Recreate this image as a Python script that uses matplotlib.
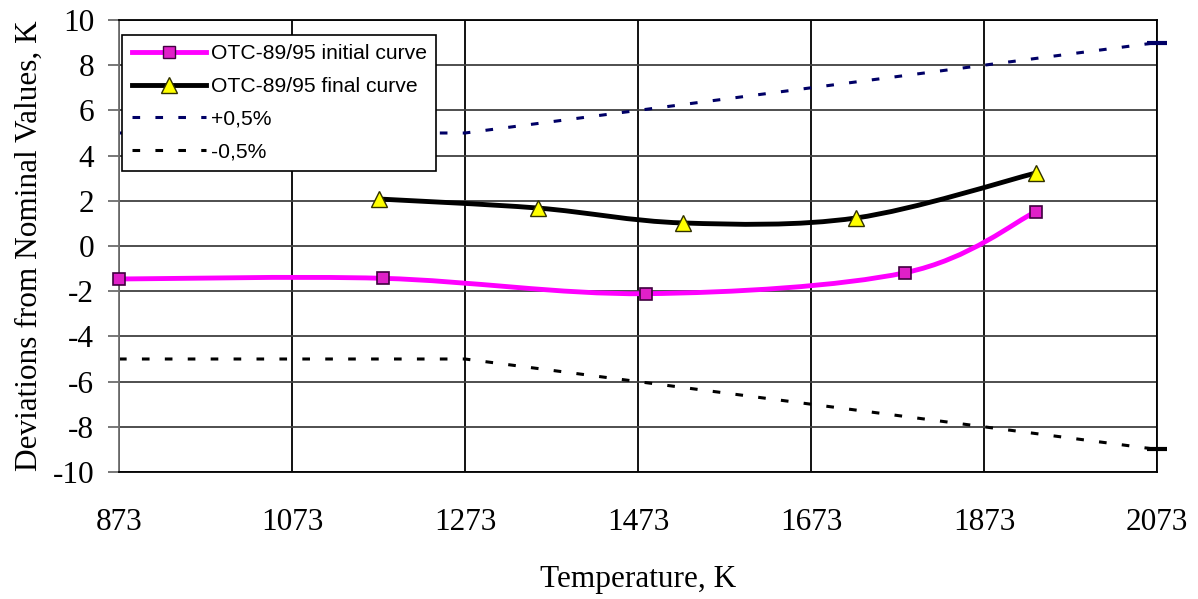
import matplotlib
matplotlib.use("Agg")
import matplotlib.pyplot as plt
from matplotlib.path import Path
from matplotlib.patches import PathPatch
from matplotlib.lines import Line2D

# ---- data ----
x_ticks = [873, 1073, 1273, 1473, 1673, 1873, 2073]
y_ticks = [-10, -8, -6, -4, -2, 0, 2, 4, 6, 8, 10]

initial_T = [873, 1178, 1482, 1782, 1933]
initial_dev = [-1.46, -1.43, -2.11, -1.18, 1.52]

final_T = [1173, 1357, 1525, 1725, 1933]
final_dev = [2.08, 1.68, 1.02, 1.24, 3.23]

plus_T = [873, 1273, 2073]
plus_dev = [5, 5, 9]
minus_T = [873, 1273, 2073]
minus_dev = [-5, -5, -9]

labels = ["OTC-89/95 initial curve", "OTC-89/95 final curve", "+0,5%", "-0,5%"]


def smooth_path(xs, ys):
    """Excel-like smoothed line as cubic Bezier segments through the points."""
    pts = list(zip(xs, ys))
    n = len(pts)
    verts = [pts[0]]
    codes = [Path.MOVETO]
    for i in range(n - 1):
        p0 = pts[i - 1] if i > 0 else pts[i]
        p1 = pts[i]
        p2 = pts[i + 1]
        p3 = pts[i + 2] if i + 2 < n else pts[i + 1]
        c1 = (p1[0] + (p2[0] - p0[0]) / 6, p1[1] + (p2[1] - p0[1]) / 6)
        c2 = (p2[0] - (p3[0] - p1[0]) / 6, p2[1] - (p3[1] - p1[1]) / 6)
        verts += [c1, c2, p2]
        codes += [Path.CURVE4] * 3
    return Path(verts, codes)


fig = plt.figure(figsize=(11.98, 5.99), dpi=100)
ax = fig.add_axes([119 / 1198, 1 - 472 / 599, (1157 - 119) / 1198, (472 - 20) / 599])

serif = "Liberation Serif"
sans = "Liberation Sans"

# grid
for t in x_ticks:
    ax.axvline(t, color="black", lw=1.3, zorder=1)
for t in y_ticks:
    ax.axhline(t, color="#404040", lw=1.3, zorder=1)

dash = (0, (2.5, 5))
ax.plot(plus_T, plus_dev, color="#000066", lw=2.2, linestyle=dash, zorder=2)
ax.plot(minus_T, minus_dev, color="black", lw=2.2, linestyle=dash, zorder=2)
ax.plot([plus_T[-1]], [plus_dev[-1]], marker="_", ms=14, mew=3, color="#000066", zorder=3, clip_on=False)
ax.plot([minus_T[-1]], [minus_dev[-1]], marker="_", ms=14, mew=3, color="black", zorder=3, clip_on=False)

ax.add_patch(PathPatch(smooth_path(initial_T, initial_dev), fill=False, edgecolor="#FF00FF", lw=3.5, zorder=3))
ax.add_patch(PathPatch(smooth_path(final_T, final_dev), fill=False, edgecolor="black", lw=3.5, zorder=3))
ax.plot(initial_T, initial_dev, linestyle="none", marker="s", ms=8, mfc="#E020C8", mec="#400040", mew=1.2, zorder=4, clip_on=False)
ax.plot(final_T, final_dev, linestyle="none", marker="^", ms=11, mfc="#FFFF00", mec="#303000", mew=1.0, zorder=4, clip_on=False)

ax.set_xlim(873, 2073)
ax.set_ylim(-10, 10)
ax.set_xticks(x_ticks)
ax.set_yticks(y_ticks)
ax.set_xticklabels([str(t) for t in x_ticks], fontfamily=serif, fontsize=22.5)
ax.set_yticklabels([str(t) for t in y_ticks], fontfamily=serif, fontsize=22.5)
ax.tick_params(axis="x", length=0, pad=26)
ax.tick_params(axis="y", length=8, width=1.2, color="#606060", pad=10, direction="out")

for s in ["top", "right", "bottom"]:
    ax.spines[s].set_color("black")
    ax.spines[s].set_linewidth(1.3)
ax.spines["left"].set_color("#707070")
ax.spines["left"].set_linewidth(1.3)

ax.set_xlabel("Temperature, K", fontfamily=serif, fontsize=22.5, labelpad=20)
ax.set_ylabel("Deviations from Nominal Values, K", fontfamily=serif, fontsize=22.5, labelpad=6)

handles = [
    Line2D([], [], color="#FF00FF", lw=3.5, marker="s", ms=8, mfc="#E020C8", mec="#400040"),
    Line2D([], [], color="black", lw=3.5, marker="^", ms=11, mfc="#FFFF00", mec="#303000"),
    Line2D([], [], color="#000066", lw=2.2, linestyle=dash),
    Line2D([], [], color="black", lw=2.2, linestyle=dash),
]
leg = ax.legend(handles, labels, loc="upper left", bbox_to_anchor=(0.003, 0.967), borderaxespad=0,
                prop={"family": sans, "size": 15.2}, frameon=True, fancybox=False, handlelength=3.5,
                handletextpad=0.25, labelspacing=0.65, borderpad=0.45)
leg.get_frame().set_edgecolor("black")
leg.get_frame().set_linewidth(1.2)
leg.get_frame().set_facecolor("white")
leg.get_frame().set_alpha(1)
leg.set_zorder(10)

fig.savefig("out.png", dpi=100)
